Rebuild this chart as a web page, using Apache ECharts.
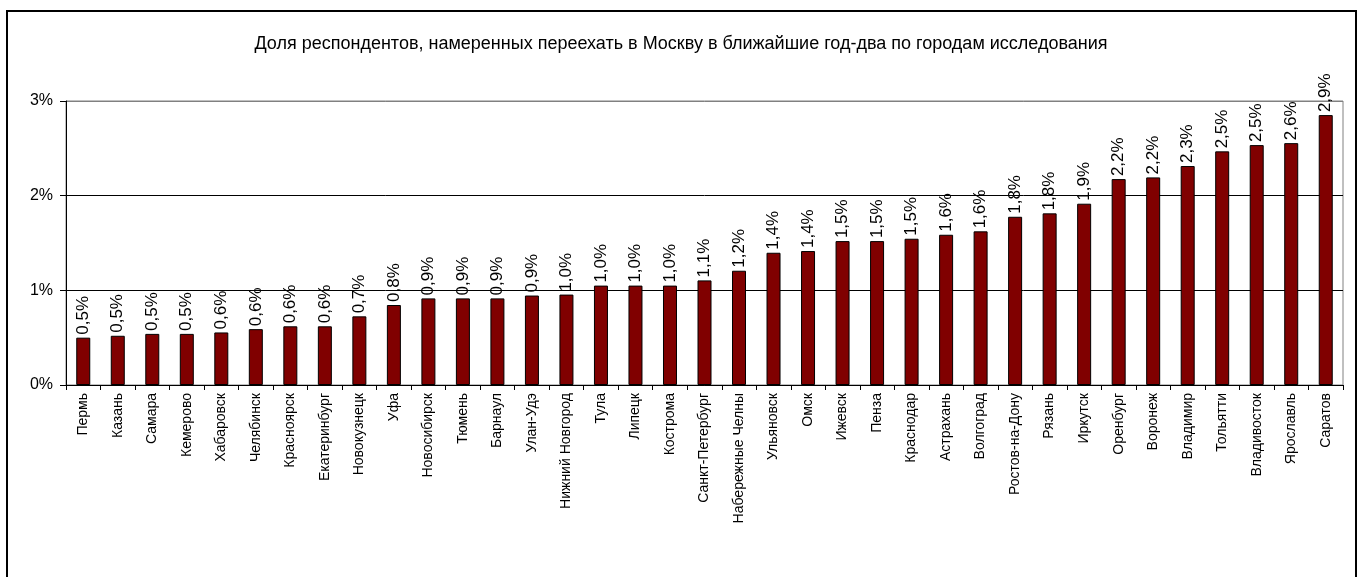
<!DOCTYPE html>
<html>
<head>
<meta charset="utf-8">
<script src="https://cdn.jsdelivr.net/npm/echarts@6/dist/echarts.min.js"></script>
<style>html,body{margin:0;padding:0;background:#fff;}#c{width:1362px;height:577px;}</style>
</head>
<body>
<div id="c"></div>
<script>
const titleText = 'Доля респондентов, намеренных переехать в Москву в ближайшие год-два по городам исследования';
const categories = ['Пермь','Казань','Самара','Кемерово','Хабаровск','Челябинск','Красноярск','Екатеринбург','Новокузнецк','Уфа','Новосибирск','Тюмень','Барнаул','Улан-Удэ','Нижний Новгород','Тула','Липецк','Кострома','Санкт-Петербург','Набережные Челны','Ульяновск','Омск','Ижевск','Пенза','Краснодар','Астрахань','Волгоград','Ростов-на-Дону','Рязань','Иркутск','Оренбург','Воронеж','Владимир','Тольятти','Владивосток','Ярославль','Саратов'];
const values = [0.50,0.52,0.54,0.54,0.555,0.59,0.62,0.62,0.725,0.845,0.915,0.915,0.915,0.945,0.955,1.05,1.05,1.05,1.105,1.207,1.397,1.415,1.52,1.52,1.545,1.587,1.623,1.777,1.813,1.915,2.175,2.193,2.313,2.468,2.534,2.555,2.851];
const valueLabels = ['0,5%','0,5%','0,5%','0,5%','0,6%','0,6%','0,6%','0,6%','0,7%','0,8%','0,9%','0,9%','0,9%','0,9%','1,0%','1,0%','1,0%','1,0%','1,1%','1,2%','1,4%','1,4%','1,5%','1,5%','1,5%','1,6%','1,6%','1,8%','1,8%','1,9%','2,2%','2,2%','2,3%','2,5%','2,5%','2,6%','2,9%'];
const yTicks = [0,1,2,3];

const chart = echarts.init(document.getElementById('c'), null, {renderer:'canvas'});
const font = 'Arial, "Liberation Sans", sans-serif';
chart.setOption({
  animation:false,
  backgroundColor:'#fff',
  textStyle:{fontFamily:font},
  title:{text:titleText,left:'center',top:30,textStyle:{fontFamily:font,fontSize:18,fontWeight:'normal',color:'#000'}},
  graphic:[{type:'rect',shape:{x:7,y:11,width:1349,height:600},style:{fill:'none',stroke:'#000',lineWidth:2},silent:true,z:100}],
  grid:{left:66,right:19,top:101,bottom:192,show:true,borderColor:'#808080',borderWidth:1},
  xAxis:{type:'category',data:categories,
    axisLine:{lineStyle:{color:'#000',width:1}},
    axisTick:{show:true,alignWithLabel:false,length:5,lineStyle:{color:'#000'},inside:false},
    axisLabel:{rotate:90,interval:0,color:'#000',fontSize:14,fontFamily:font,margin:8}
  },
  yAxis:{type:'value',min:0,max:3,interval:1,
    axisLine:{show:true,lineStyle:{color:'#000'}},
    axisTick:{show:true,length:6,lineStyle:{color:'#000'}},
    splitLine:{show:true,lineStyle:{color:['#000','#000','#000','#808080'],width:1}},
    axisLabel:{color:'#000',fontSize:16,fontFamily:font,margin:13,formatter:v=>yTicks.includes(v)?v+'%':''}
  },
  series:[{type:'bar',data:values,barWidth:14,
    itemStyle:{color:'#800000',borderColor:'#000',borderWidth:1},
    label:{show:true,position:'top',rotate:90,align:'left',verticalAlign:'middle',distance:3,color:'#000',fontSize:17,fontFamily:font,
      formatter:p=>valueLabels[p.dataIndex]}
  }]
});
</script>
</body>
</html>
